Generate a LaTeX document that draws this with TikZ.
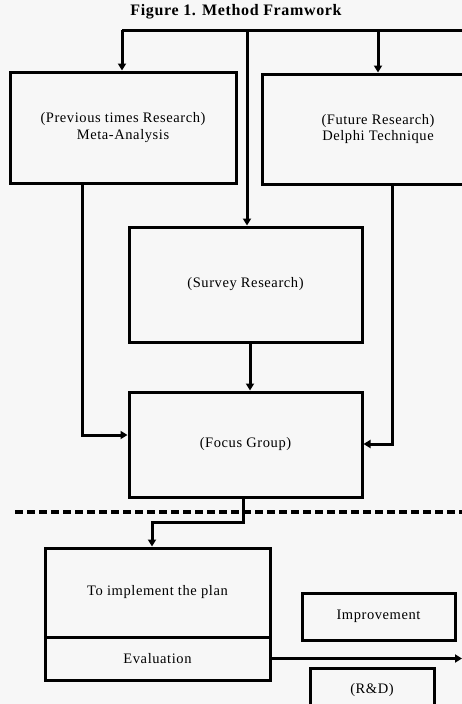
\documentclass[tikz,border=0pt]{standalone}
\usepackage{fontspec}
\setmainfont{Liberation Serif}
\newfontfamily\boxfont[LetterSpace=4]{Liberation Serif}
\newfontfamily\titlefont[LetterSpace=4]{Liberation Serif}
\usetikzlibrary{arrows.meta}
\begin{document}
\begin{tikzpicture}[x=1pt,y=-1pt,
  box/.style={draw=black,line width=3pt,inner sep=0pt,align=center,font=\boxfont\fontsize{14.5}{16.5}\selectfont},
  conn/.style={draw=black,line width=3pt},
  arr/.style={conn,-{Triangle[width=8pt,length=7pt]}}]
\fill[gray!6] (0,0) rectangle (462,704);
\useasboundingbox (0,0) rectangle (462,704);
\clip (0,0) rectangle (462,704);
\node[font=\titlefont\bfseries\fontsize{16}{18}\selectfont] (title) at (236,12) {Figure 1. Method Framwork};
\node[box,minimum width=226pt,minimum height=111pt] (lb) at (123,127.5) {(Previous times Research)\\Meta-Analysis};
\node[box,minimum width=232pt,minimum height=110pt] (rb) at (378,129) {(Future Research)\\Delphi Technique};
\node[box,minimum width=233pt,minimum height=115pt] (sr) at (245.5,284.5) {(Survey Research)};
\node[box,minimum width=233pt,minimum height=105pt] (fg) at (245.5,444.5) {(Focus Group)};
\node[box,minimum width=225pt,minimum height=89pt] (im) at (157.5,592.5) {To implement the plan};
\node[box,minimum width=225pt,minimum height=43pt] (ev) at (157.5,658.5) {Evaluation};
\node[box,minimum width=153pt,minimum height=47pt] (ip) at (378.5,616.5) {Improvement};
\node[box,minimum width=124pt,minimum height=44pt] (rd) at (372,690) {(R\&D)};
% top distribution line
\coordinate (tl) at (122,30);
\coordinate (tr) at (470,30);
\coordinate (tm) at (247,30);
\coordinate (tf) at (378,30);
\draw[conn] (tl) -- (tr);
\draw[arr] (tl) -- (lb.north -| tl);
\draw[arr] (tf) -- (rb.north -| tf);
\draw[arr] (tm) -- (sr.north -| tm);
% side connectors
\coordinate (ls) at (82,183);
\coordinate (lc) at (82,435);
\draw[arr] (ls) -- (lc) -- (fg.west |- lc);
\coordinate (rs) at (392,184);
\coordinate (rc) at (392,444);
\draw[arr] (rs) -- (rc) -- (fg.east |- rc);
\coordinate (sm) at (250,342);
\draw[arr] (sm) -- (fg.north -| sm);
% dashed separator
\coordinate (d1) at (15,512);
\coordinate (d2) at (462,512);
\draw[line width=3.5pt,dash pattern=on 8pt off 4pt] (d1) -- (d2);
% focus to implement
\coordinate (f1) at (243,497);
\coordinate (f2) at (243,522);
\coordinate (f3) at (152,522);
\draw[arr] (f1) -- (f2) -- (f3) -- (im.north -| f3);
% evaluation out
\coordinate (eo) at (462,658.5);
\draw[arr] (ev.east) -- (eo);
\end{tikzpicture}
\end{document}
